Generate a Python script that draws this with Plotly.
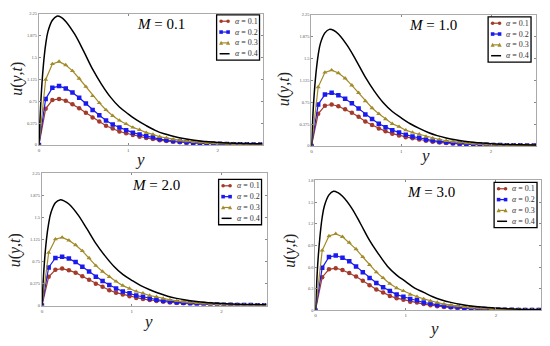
import plotly.graph_objects as go

# marker-series grid
y_mark = [0, 0.075, 0.15, 0.225, 0.3, 0.375, 0.45, 0.525, 0.6, 0.675, 0.75, 0.825, 0.9, 0.975,
          1.05, 1.125, 1.2, 1.275, 1.35, 1.425, 1.5, 1.575, 1.65, 1.725, 1.8, 1.875, 1.95,
          2.025, 2.1, 2.175, 2.25, 2.325, 2.4, 2.475]
# black line grid
y_line = [0, 0.025, 0.05, 0.075, 0.1, 0.15, 0.2, 0.25, 0.3, 0.4, 0.5, 0.6, 0.7, 0.8, 0.9, 1.0,
          1.1, 1.2, 1.3, 1.4, 1.5, 1.6, 1.7, 1.8, 1.9, 2.0, 2.2, 2.5]

# M = 0.1
m01_a01 = [0, .62, .77, .79, .76, .70, .63, .55, .47, .40, .33, .28, .23, .20, .17, .14, .12, .10, .079, .066, .054, .044, .036, .030, .024, .021, .017, .014, .012, .010, .009, .008, .007, .006]
m01_a02 = [0, .79, .98, 1.01, .97, .90, .81, .71, .60, .51, .42, .35, .30, .25, .21, .18, .15, .13, .10, .084, .069, .057, .046, .038, .031, .026, .021, .018, .015, .013, .011, .010, .009, .008]
m01_a03 = [0, 1.12, 1.39, 1.43, 1.37, 1.27, 1.14, 1.00, .84, .72, .60, .50, .42, .36, .30, .26, .21, .18, .14, .12, .097, .080, .066, .054, .044, .037, .030, .026, .021, .019, .016, .014, .013, .011]
m01_a04 = [0, .84, 1.37, 1.72, 1.94, 2.14, 2.21, 2.19, 2.12, 1.90, 1.61, 1.30, 1.04, .82, .65, .53, .42, .33, .25, .19, .15, .115, .088, .069, .053, .042, .027, .018]
# M = 1.0
m10_a01 = [0, .55, .69, .71, .68, .63, .57, .50, .42, .36, .30, .25, .21, .18, .15, .13, .11, .089, .071, .059, .048, .040, .033, .027, .022, .018, .015, .013, .011, .009, .008, .007, .006, .006]
m10_a02 = [0, .71, .88, .91, .87, .81, .73, .64, .54, .46, .38, .32, .27, .23, .19, .16, .14, .11, .091, .076, .062, .051, .042, .035, .028, .024, .019, .016, .014, .012, .010, .009, .008, .007]
m10_a03 = [0, 1.01, 1.26, 1.30, 1.25, 1.16, 1.04, .91, .77, .65, .55, .46, .38, .33, .27, .23, .20, .16, .13, .11, .088, .073, .060, .049, .040, .034, .027, .023, .020, .017, .014, .013, .012, .010]
m10_a04 = [0, .76, 1.24, 1.56, 1.76, 1.94, 2.0, 1.98, 1.92, 1.72, 1.46, 1.18, .94, .74, .59, .48, .38, .30, .23, .176, .136, .104, .080, .062, .048, .038, .024, .016]
# M = 2.0
m20_a01 = [0, .49, .61, .63, .60, .56, .50, .44, .37, .32, .26, .22, .19, .16, .13, .11, .095, .079, .063, .052, .043, .035, .029, .024, .020, .016, .013, .011, .009, .008, .007, .006, .006, .005]
m20_a02 = [0, .65, .81, .83, .80, .74, .66, .58, .49, .42, .35, .29, .24, .21, .17, .15, .12, .10, .083, .069, .056, .046, .038, .032, .026, .022, .017, .015, .012, .011, .009, .008, .007, .007]
m20_a03 = [0, .90, 1.13, 1.16, 1.11, 1.03, .93, .81, .68, .58, .49, .41, .34, .29, .24, .21, .17, .15, .12, .096, .079, .065, .053, .044, .036, .030, .024, .021, .017, .015, .013, .012, .010, .009]
m20_a04 = [0, .68, 1.12, 1.40, 1.58, 1.75, 1.80, 1.78, 1.73, 1.55, 1.31, 1.06, .85, .67, .53, .43, .34, .27, .21, .158, .122, .094, .072, .056, .043, .034, .022, .014]
# M = 3.0
m30_a01 = [0, .46, .57, .585, .56, .52, .47, .41, .35, .29, .25, .20, .17, .15, .12, .11, .088, .073, .059, .049, .040, .033, .027, .022, .018, .015, .012, .011, .009, .008, .006, .006, .005, .005]
m30_a02 = [0, .59, .74, .76, .73, .68, .61, .53, .45, .38, .32, .27, .22, .19, .16, .14, .11, .095, .076, .063, .052, .043, .035, .029, .024, .020, .016, .014, .011, .010, .008, .008, .007, .006]
m30_a03 = [0, .83, 1.03, 1.06, 1.02, .94, .85, .74, .63, .53, .45, .37, .31, .27, .22, .19, .16, .13, .11, .088, .072, .059, .049, .040, .033, .028, .022, .019, .016, .014, .012, .011, .010, .008]
m30_a04 = [0, .63, 1.02, 1.29, 1.45, 1.60, 1.65, 1.63, 1.58, 1.42, 1.20, .97, .78, .61, .49, .40, .31, .25, .19, .145, .112, .086, .066, .051, .040, .031, .020, .013]

panels = [
    ("0.1", [m01_a01, m01_a02, m01_a03, m01_a04]),
    ("1.0", [m10_a01, m10_a02, m10_a03, m10_a04]),
    ("2.0", [m20_a01, m20_a02, m20_a03, m20_a04]),
    ("3.0", [m30_a01, m30_a02, m30_a03, m30_a04]),
]
alpha_labels = ["0.1", "0.2", "0.3", "0.4"]
yticks_a = [0, 0.375, 0.75, 1.125, 1.5, 1.875, 2.25]
yticks_b = [0, 0.3, 0.6, 0.9, 1.2, 1.5, 1.8]
xticks = [0, 1, 2]

W, H = 550, 346
# pixel boxes (left, top, right, bottom)
boxes = [(38, 12, 262, 145), (311, 13, 536, 146), (41, 174, 266, 308), (315, 181, 541, 313)]
yranges = [2.25, 2.25, 2.25, 1.8]
ytickset = [yticks_a, yticks_a, yticks_a, yticks_b]
legend_box = [(216, 13), (488, 15), (218, 180), (494, 183)]
mlabel_pos = [(160, 22), (433, 23), (155, 186), (431, 193)]
ylab_pos = [(16, 78), (283, 88), (14, 252), (290, 252)]
xlab_pos = [(139, 160), (425, 156), (147, 324), (434, 331)]

colors = ["#A33A2A", "#1A1AEE", "#A38B2A"]
symbols = ["circle", "square", "triangle-up"]

fig = go.Figure()
serif = "Liberation Serif, DejaVu Serif, serif"
annotations = []
shapes = []
layout = {}


def px(x):
    return x / W


def py(y):
    return 1 - y / H


def marker_shape(kind, cx, cy, color, r=1.8):
    if kind == "circle":
        return dict(type="circle", xref="paper", yref="paper", x0=px(cx - r), x1=px(cx + r),
                    y0=py(cy + r), y1=py(cy - r), fillcolor=color, line=dict(width=0))
    if kind == "square":
        return dict(type="rect", xref="paper", yref="paper", x0=px(cx - r), x1=px(cx + r),
                    y0=py(cy + r), y1=py(cy - r), fillcolor=color, line=dict(width=0))
    p = "M {} {} L {} {} L {} {} Z".format(px(cx - r - 0.3), py(cy + r), px(cx + r + 0.3), py(cy + r),
                                          px(cx), py(cy - r - 0.3))
    return dict(type="path", xref="paper", yref="paper", path=p, fillcolor=color, line=dict(width=0))


for i, (mval, series) in enumerate(panels):
    n = "" if i == 0 else str(i + 1)
    xa, ya = "x" + n, "y" + n
    for j in range(3):
        fig.add_trace(go.Scatter(
            x=y_mark, y=series[j], mode="lines+markers", xaxis=xa, yaxis=ya,
            name="α = " + alpha_labels[j], showlegend=False,
            line=dict(color=colors[j], width=1.2),
            marker=dict(symbol=symbols[j], size=4.5, color=colors[j])))
    fig.add_trace(go.Scatter(
        x=y_line, y=series[3], mode="lines", xaxis=xa, yaxis=ya, line_shape="spline",
        name="α = " + alpha_labels[3], showlegend=False,
        line=dict(color="black", width=1.5)))
    l, t, r, b = boxes[i]
    layout["xaxis" + n] = dict(domain=[l / W, r / W], range=[0, 2.5], anchor=ya,
                               tickvals=xticks, ticks="inside", ticklen=2, mirror="ticks",
                               showline=True, linecolor="#aaa", linewidth=1, tickcolor="#888",
                               showgrid=False, zeroline=False,
                               tickfont=dict(size=5, color="#555", family=serif))
    layout["yaxis" + n] = dict(domain=[1 - b / H, 1 - t / H], range=[0, yranges[i]], anchor=xa,
                               tickvals=ytickset[i], ticks="inside", ticklen=2, mirror="ticks",
                               showline=True, linecolor="#aaa", linewidth=1, tickcolor="#888",
                               showgrid=False, zeroline=False,
                               tickfont=dict(size=4.5, color="#555", family=serif))
    # manual legend
    lx, ly = legend_box[i]
    lw, lh = 43, 46
    shapes.append(dict(type="rect", xref="paper", yref="paper", x0=px(lx), x1=px(lx + lw),
                       y0=py(ly + lh), y1=py(ly), fillcolor="white",
                       line=dict(color="black", width=1.3)))
    for k in range(4):
        cy = ly + 6.5 + 11 * k
        if k < 3:
            shapes.append(dict(type="line", xref="paper", yref="paper", x0=px(lx + 4), x1=px(lx + 12),
                               y0=py(cy), y1=py(cy), line=dict(color=colors[k], width=1.2)))
            shapes.append(marker_shape(symbols[k], lx + 4.5, cy, colors[k]))
            shapes.append(marker_shape(symbols[k], lx + 11.5, cy, colors[k]))
        else:
            shapes.append(dict(type="line", xref="paper", yref="paper", x0=px(lx + 3), x1=px(lx + 13),
                               y0=py(cy), y1=py(cy), line=dict(color="black", width=1.5)))
        annotations.append(dict(x=px(lx + 16), y=py(cy), xref="paper", yref="paper",
                                xanchor="left", yanchor="middle",
                                text="<i>α</i> = " + alpha_labels[k], showarrow=False,
                                font=dict(size=8, family=serif, color="#333")))
    mx, my = mlabel_pos[i]
    annotations.append(dict(x=px(mx), y=py(my), xref="paper", yref="paper",
                            xanchor="center", yanchor="middle",
                            text="<i>M</i> = " + mval, showarrow=False,
                            font=dict(size=15, family=serif, color="black")))
    ux, uy = ylab_pos[i]
    annotations.append(dict(x=px(ux), y=py(uy), xref="paper", yref="paper",
                            xanchor="center", yanchor="middle",
                            text="<i>u</i>(<i>y</i>,<i>t</i>)", showarrow=False, textangle=-90,
                            font=dict(size=16, family=serif, color="#222")))
    vx, vy = xlab_pos[i]
    annotations.append(dict(x=px(vx), y=py(vy), xref="paper", yref="paper",
                            xanchor="center", yanchor="middle",
                            text="<i>y</i>", showarrow=False,
                            font=dict(size=17, family=serif, color="#222")))

fig.update_layout(width=W, height=H, margin=dict(l=0, r=0, t=0, b=0),
                  paper_bgcolor="white", plot_bgcolor="white", showlegend=False,
                  annotations=annotations, shapes=shapes, **layout)
fig.write_html("out.html", config={"displayModeBar": False},
               post_script="document.body.style.margin='0';document.body.style.overflow='hidden';")
